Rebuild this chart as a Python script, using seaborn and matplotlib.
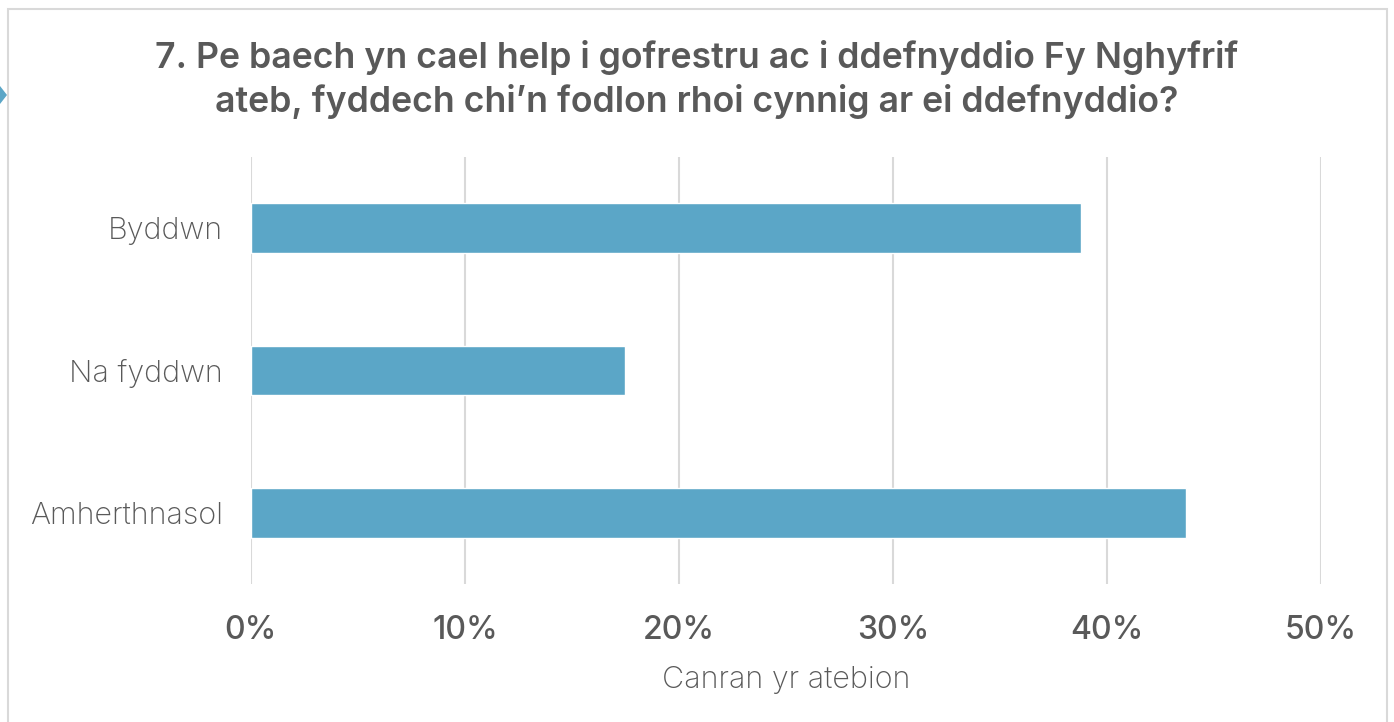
import matplotlib
matplotlib.use("Agg")
import matplotlib.pyplot as plt
import matplotlib.patches as mpatches
import seaborn as sns
import pandas as pd

categories = ["Byddwn", "Na fyddwn", "Amherthnasol"]
percentages = [38.8, 17.5, 43.7]
xticks = [0, 10, 20, 30, 40, 50]
xtick_labels = ["0%", "10%", "20%", "30%", "40%", "50%"]

title = "7. Pe baech yn cael help i gofrestru ac i ddefnyddio Fy Nghyfrif\nateb, fyddech chi\u2019n fodlon rhoi cynnig ar ei ddefnyddio?"
xlabel = "Canran yr atebion"

df = pd.DataFrame({"cat": categories, "pct": percentages})

sns.set_style("white")
plt.rcParams["font.family"] = ["Inter", "DejaVu Sans"]

fig = plt.figure(figsize=(13.94, 7.22), dpi=100)
ax = fig.add_axes([0.18, 0.191, 0.7676, 0.5915])

sns.barplot(data=df, x="pct", y="cat", color="#5ba6c7", width=0.35,
            saturation=1, ax=ax, orient="h")

ax.set_xlim(0, 50)
ax.set_ylim(2.5, -0.5)
ax.set_xticks(xticks)
ax.set_xticklabels(xtick_labels, fontsize=23, color="#595959", fontweight="medium")
ax.set_yticklabels(categories, fontsize=22, color="#595959", fontweight="light")
ax.tick_params(axis="x", length=0, pad=22)
ax.tick_params(axis="y", length=0, pad=20)
ax.xaxis.grid(True, color="#d9d9d9", linewidth=1.5)
ax.set_axisbelow(True)
for s in ax.spines.values():
    s.set_visible(False)
ax.set_ylabel("")
ax.set_xlabel(xlabel, fontsize=22, color="#595959", fontweight="light", labelpad=15)

fig.text(0.5, 0.890, title, ha="center", va="center", fontsize=25.7,
         fontweight="semibold", color="#595959", linespacing=1.3)

# chart frame and little marker on the left edge
fig.patches.append(mpatches.Rectangle((8 / 1394, -0.05), 1379 / 1394, 1.05 - 9 / 722,
                                      transform=fig.transFigure, fill=False,
                                      edgecolor="#d9d9d9", linewidth=1.5))
fig.patches.append(mpatches.Polygon([(0, 1 - 86 / 722), (7 / 1394, 1 - 95 / 722), (0, 1 - 104 / 722)],
                                    closed=True, transform=fig.transFigure,
                                    facecolor="#5ba6c7", edgecolor="none"))

fig.savefig("out.png", dpi=100)
